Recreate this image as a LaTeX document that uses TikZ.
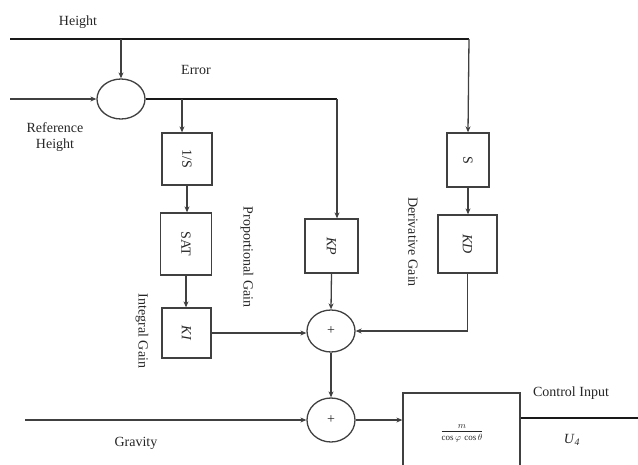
\documentclass[tikz,border=0pt]{standalone}
\usepackage{fontspec}
\setmainfont{Liberation Serif}
\usetikzlibrary{shapes.geometric,arrows.meta}
\begin{document}
\begin{tikzpicture}[x=1pt,y=-1pt,
  every node/.style={font=\fontsize{14}{16}\selectfont, text=black!85},
  ln/.style={draw=black!75, line width=1.3pt},
  tk/.style={draw=black!90, line width=2pt},
  arr/.style={ln, -{Stealth[length=6pt,width=5pt]}},
  blk/.style={draw=black!75, line width=1.3pt, rectangle, inner sep=0pt},
  sumn/.style={draw=black!75, line width=1.3pt, ellipse, inner sep=0pt, minimum width=48pt},
  vlab/.style={rotate=-90, inner sep=0pt}]
\useasboundingbox (0,0) rectangle (638,464);
% labels
\node (hl) at (78,22) {Height};
\node (el) at (196,70) {Error};
\node[align=center, inner sep=0pt] (rl) at (55,137) {Reference\\Height};
\node (gl) at (136,443) {Gravity};
\node (cl) at (571,393) {Control Input};
\node (ul) at (572,440) {\textit{U}\textsubscript{\textit{4}}};
\node[vlab] (pl) at (247,257) {Proportional Gain};
\node[vlab] (il) at (142,331) {Integral Gain};
\node[vlab] (dl) at (413,242) {Derivative Gain};
% coordinates
\coordinate (hs) at (10,39);
\coordinate (hsplit) at (121,39);
\coordinate (hend) at (469,39);
\coordinate (rs) at (10,99);
\coordinate (gs) at (25,420);
\coordinate (esplit) at (182,99);
\coordinate (eturn) at (337,99);
\coordinate (out) at (638,418);
% blocks
\node[sumn, minimum height=40pt] (e) at (121,99) {};
\node[blk, minimum width=50pt, minimum height=52pt] (inv) at (187,159) {\rotatebox{-90}{1/S}};
\node[blk, minimum width=51pt, minimum height=62pt] (sat) at (186,244) {\rotatebox{-90}{SAT}};
\node[blk, minimum width=49pt, minimum height=50pt] (ki) at (186.5,333) {\rotatebox{-90}{\textit{KI}}};
\node[blk, minimum width=53pt, minimum height=54pt] (kp) at (331.5,246) {\rotatebox{-90}{\textit{KP}}};
\node[blk, minimum width=42pt, minimum height=54pt] (s) at (468,160) {\rotatebox{-90}{S}};
\node[blk, minimum width=59pt, minimum height=58pt] (kd) at (467.5,244) {\rotatebox{-90}{\textit{KD}}};
\node[sumn, minimum height=42pt] (sum1) at (331,331) {+};
\node[sumn, minimum height=44pt] (sum2) at (331,420) {+};
\node[blk, minimum width=117pt, minimum height=77pt] (plant) at (461.5,431.5) {};
\node (frac) at (462,433) {\fontsize{9}{10}\selectfont$\displaystyle\frac{m}{\cos\varphi\,\cos\theta}$};
% connectors
\draw[tk] (hs) -- (hend);
\draw[arr] (hsplit) -- (e.north);
\draw[arr] (hend) -- (s.north);
\draw[arr] (rs) -- (e.west);
\draw[tk] (e.east) -- (eturn);
\draw[arr] (eturn) -- (eturn |- kp.north);
\draw[arr] (esplit) -- (esplit |- inv.north);
\draw[arr] (inv.south) -- (inv.south |- sat.north);
\draw[arr] (sat.south) -- (sat.south |- ki.north);
\draw[arr] (ki.east) -- (ki.east -| sum1.west);
\draw[arr] (kp.south) -- (sum1.north);
\draw[arr] (s.south) -- (s.south |- kd.north);
\draw[arr] (kd.south) -- (kd.south |- sum1.east) -- (sum1.east);
\draw[arr] (sum1.south) -- (sum2.north);
\draw[arr] (gs) -- (sum2.west);
\draw[arr] (sum2.east) -- (sum2.east -| plant.west);
\draw[tk] (plant.east |- out) -- (out);
\end{tikzpicture}
\end{document}
